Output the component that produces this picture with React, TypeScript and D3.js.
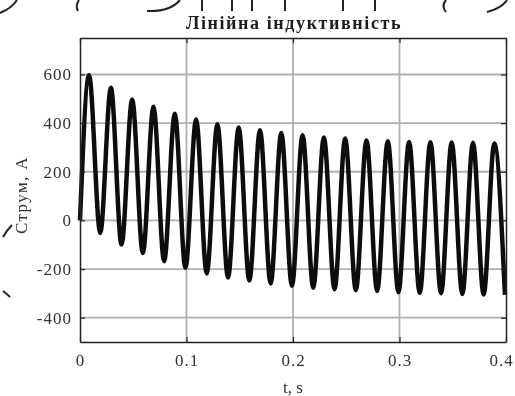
import React, { useRef, useEffect } from 'react';
import * as d3 from 'd3';

// peaks and troughs of the current
const peakT = [0.0085, 0.029, 0.049, 0.069, 0.089, 0.109, 0.129, 0.149, 0.169, 0.189,
  0.209, 0.229, 0.249, 0.269, 0.289, 0.309, 0.329, 0.349, 0.369, 0.389];
const peakI = [597, 545, 497, 467, 439, 415, 395, 382, 371, 359,
  350, 341, 337, 329, 325, 322, 321, 320, 319, 316];
const troughT = [0.019, 0.039, 0.059, 0.079, 0.099, 0.119, 0.139, 0.159, 0.179, 0.199,
  0.219, 0.239, 0.259, 0.279, 0.299, 0.319, 0.339, 0.359, 0.379, 0.399];
const troughI = [-52, -99, -134, -168, -195, -218, -235, -247, -259, -269,
  -277, -283, -287, -290, -295, -298, -300, -303, -305, -306];
const startT = 0;
const startI = 0;

const xTicks = [0, 0.1, 0.2, 0.3, 0.4];
const xTickLabels = ['0', '0.1', '0.2', '0.3', '0.4'];
const yTicks = [-400, -200, 0, 200, 400, 600];
const yTickLabels = ['-400', '-200', '0', '200', '400', '600'];
const xDomain = [0, 0.4];
const yDomain = [-500, 750];

const title = 'Лінійна індуктивність';
const xLabel = 't, s';
const yLabel = 'Струм, А';

export default function App() {
  const ref = useRef<SVGSVGElement>(null);

  useEffect(() => {
    document.body.style.margin = '0';
    const svg = d3.select(ref.current);
    svg.selectAll('*').remove();

    const width = 515;
    const height = 396;
    const margin = { top: 38, right: 9, bottom: 54, left: 80 };
    const x0 = margin.left;
    const x1 = width - margin.right;
    const y0 = height - margin.bottom;
    const y1 = margin.top;

    const x = d3.scaleLinear().domain(xDomain).range([x0, x1]);
    const y = d3.scaleLinear().domain(yDomain).range([y0, y1]);

    const font = 'Liberation Serif, Times New Roman, serif';

    // a little softening, the reference is a scan
    svg.append('defs')
      .append('filter')
        .attr('id', 'scan')
      .append('feGaussianBlur')
        .attr('stdDeviation', 0.45);

    svg.append('rect')
      .attr('width', width)
      .attr('height', height)
      .attr('fill', '#fff');

    const root = svg.append('g').attr('filter', 'url(#scan)');

    // grid
    const grid = root.append('g')
      .attr('stroke', '#b0b0b0')
      .attr('stroke-width', 1.8);
    grid.selectAll('line.h')
      .data(yTicks)
      .enter()
      .append('line')
        .attr('x1', x0)
        .attr('x2', x1)
        .attr('y1', d => y(d))
        .attr('y2', d => y(d));
    grid.selectAll('line.v')
      .data(xTicks.slice(1, -1))
      .enter()
      .append('line')
        .attr('x1', d => x(d))
        .attr('x2', d => x(d))
        .attr('y1', y1)
        .attr('y2', y0);

    // current trace through the extrema
    const pts: [number, number][] = [[startT, startI]];
    peakT.forEach((t, i) => {
      pts.push([t, peakI[i]]);
      pts.push([troughT[i], troughI[i]]);
    });

    root.append('path')
      .datum(pts)
      .attr('fill', 'none')
      .attr('stroke', '#111')
      .attr('stroke-width', 4.5)
      .attr('stroke-linejoin', 'round')
      .attr('d', d3.line<[number, number]>()
        .x(d => x(d[0]))
        .y(d => y(d[1]))
        .curve(d3.curveMonotoneX)
      );

    // axes, ticks inward like matlab
    const styleAxis = (g: any) => {
      g.attr('font-family', font).attr('font-size', 17);
      g.select('.domain').attr('stroke', '#222').attr('stroke-width', 1.5);
      g.selectAll('.tick line').attr('stroke', '#222').attr('stroke-width', 1.2);
      g.selectAll('.tick text')
        .attr('fill', '#333')
        .attr('letter-spacing', 1);
    };

    const xAxis = root.append('g')
      .attr('transform', `translate(0,${y0})`)
      .call(d3.axisBottom(x).tickValues(xTicks)
        .tickFormat((d, i) => xTickLabels[i])
        .tickSize(-5).tickSizeOuter(0).tickPadding(12))
      .call(styleAxis);
    // last label sits at the page edge, pull it in so it stays readable
    xAxis.selectAll('.tick text')
      .filter((d: any) => d === xDomain[1])
      .attr('dx', -5);

    root.append('g')
      .attr('transform', `translate(${x0},0)`)
      .call(d3.axisLeft(y).tickValues(yTicks)
        .tickFormat((d, i) => yTickLabels[i])
        .tickSize(-5).tickSizeOuter(0).tickPadding(8))
      .call(styleAxis);

    root.append('g')
      .attr('transform', `translate(0,${y1})`)
      .call(d3.axisTop(x).tickValues(xTicks).tickFormat(() => '')
        .tickSize(-5).tickSizeOuter(0))
      .call(styleAxis);

    root.append('g')
      .attr('transform', `translate(${x1},0)`)
      .call(d3.axisRight(y).tickValues(yTicks).tickFormat(() => '')
        .tickSize(-5).tickSizeOuter(0))
      .call(styleAxis);

    // title & labels
    root.append('text')
      .attr('x', 294)
      .attr('y', 29)
      .attr('text-anchor', 'middle')
      .attr('fill', '#1a1a1a')
      .attr('font-family', font)
      .attr('font-size', 18)
      .attr('font-weight', 'bold')
      .attr('letter-spacing', 1.6)
      .text(title);

    root.append('text')
      .attr('x', (x0 + x1) / 2)
      .attr('y', 393)
      .attr('text-anchor', 'middle')
      .attr('fill', '#333')
      .attr('font-family', font)
      .attr('font-size', 17)
      .text(xLabel);

    root.append('text')
      .attr('transform', 'rotate(-90)')
      .attr('x', -195)
      .attr('y', 27)
      .attr('text-anchor', 'middle')
      .attr('fill', '#333')
      .attr('font-family', font)
      .attr('font-size', 17)
      .attr('letter-spacing', 1.4)
      .text(yLabel);

    // bits of the scanned page around the figure
    const scraps = root.append('g')
      .attr('fill', 'none')
      .attr('stroke', '#222')
      .attr('stroke-width', 2);
    scraps.append('path').attr('d', 'M0,13 Q12,8 17,0');
    scraps.append('path').attr('d', 'M79,0 Q75,6 78,11');
    scraps.append('path').attr('d', 'M147,11 Q170,12 180,0');
    [202, 232, 252, 285, 343, 375].forEach(px => {
      scraps.append('line').attr('x1', px).attr('x2', px).attr('y1', 0).attr('y2', 11);
    });
    scraps.append('path').attr('d', 'M446,0 Q441,6 446,12');
    scraps.append('path').attr('d', 'M487,12 Q502,8 507,0');
    scraps.append('path').attr('d', 'M3,237 Q7,230 12,225');
    scraps.append('path').attr('d', 'M3,291 Q7,294 10,297');
  }, []);

  return (
    <svg ref={ref} width={515} height={396} style={{ display: 'block' }} />
  );
}
